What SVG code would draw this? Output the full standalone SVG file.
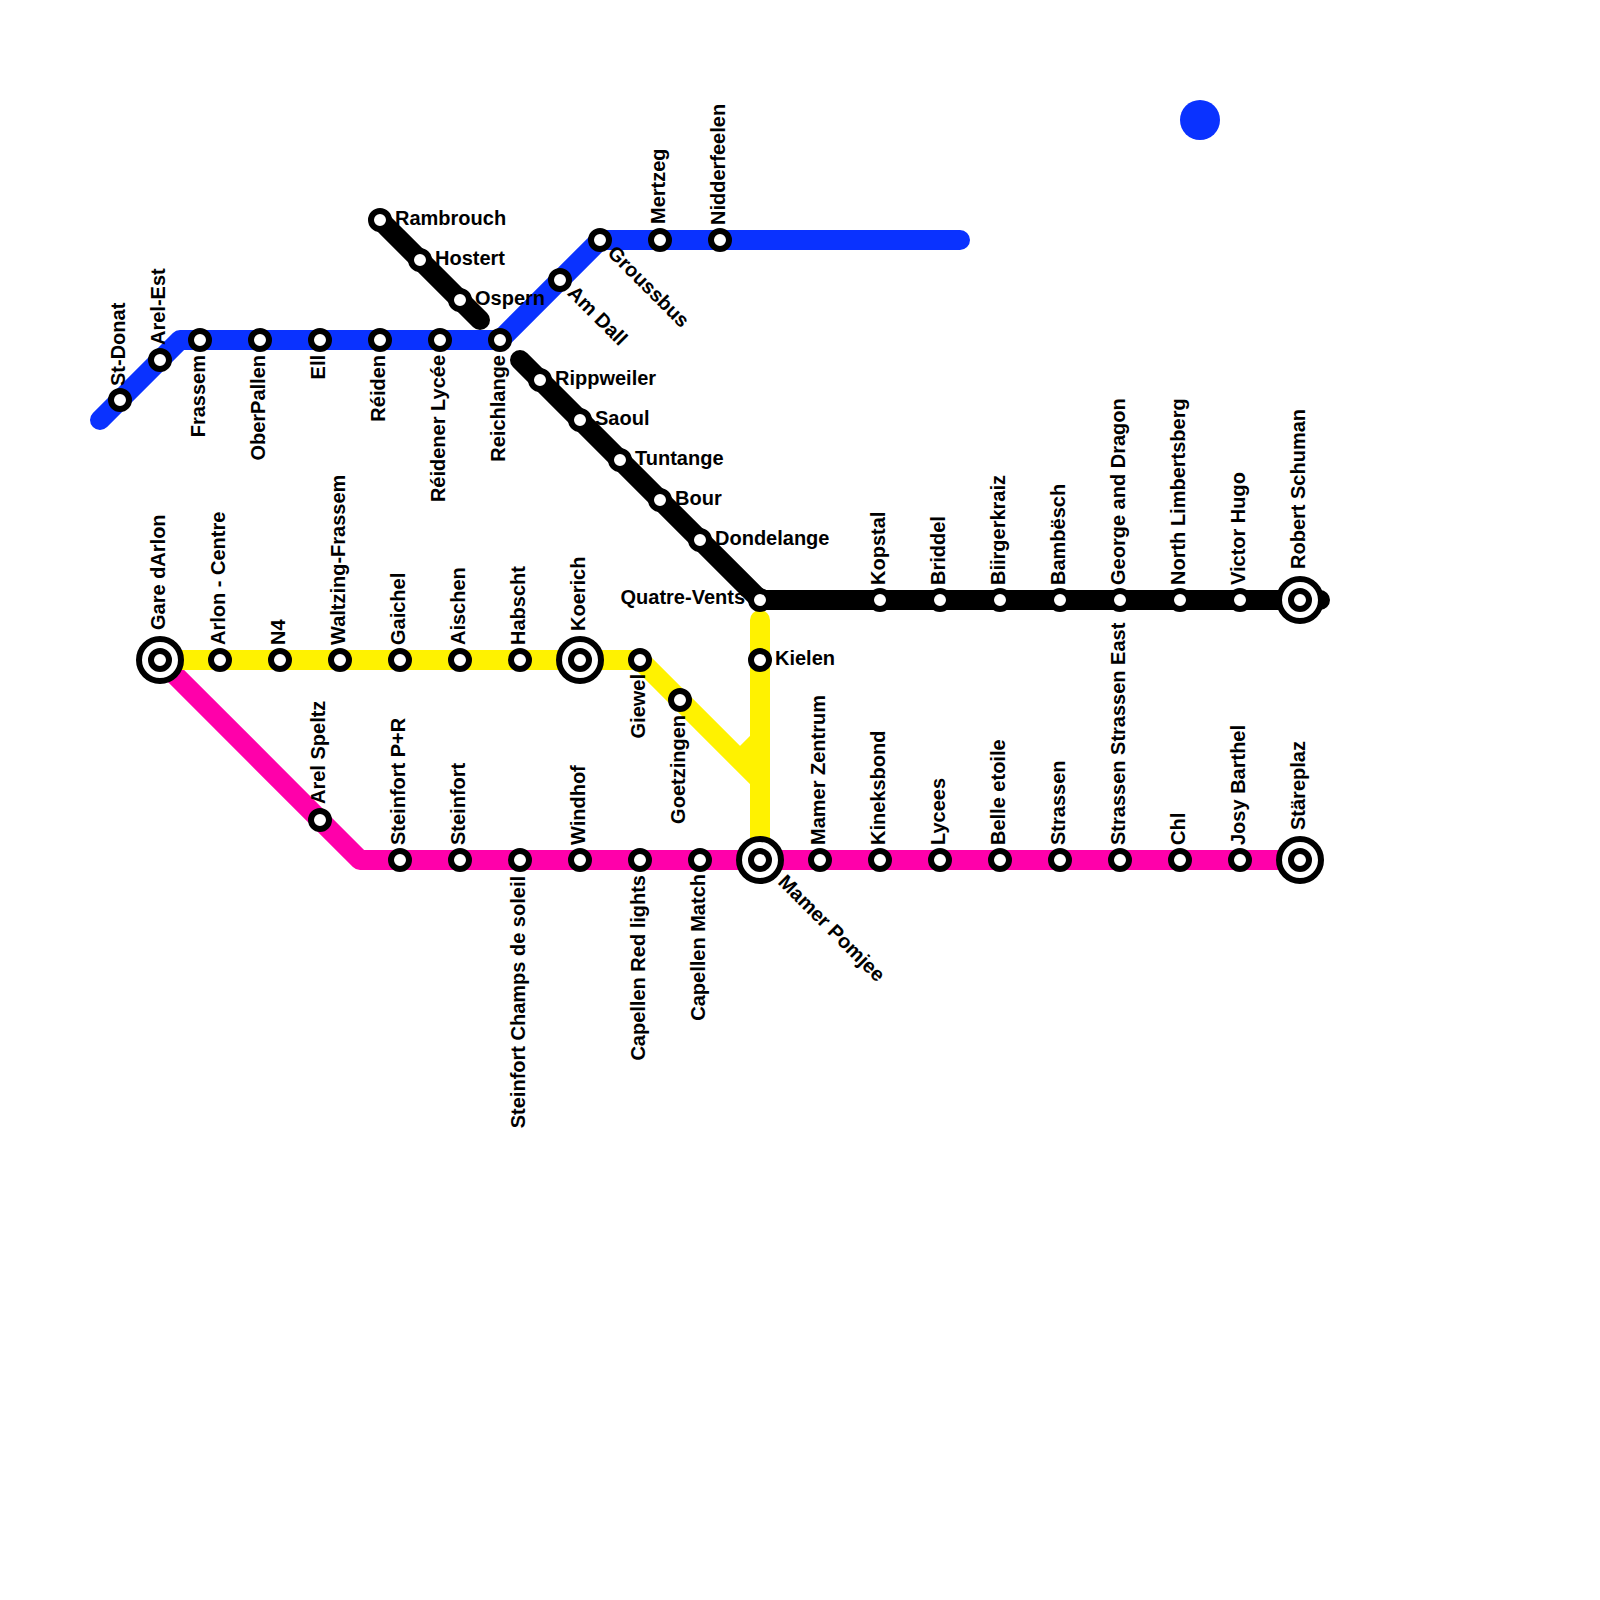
<svg xmlns="http://www.w3.org/2000/svg" width="1600" height="1600" viewBox="0 0 1600 1600">
<style>
.l{fill:none;stroke-width:20;stroke-linecap:round;stroke-linejoin:round}
.s{fill:#fff;stroke:#000;stroke-width:6}
.o{fill:#fff;stroke:#000;stroke-width:6}
text{font-family:"Liberation Sans",Arial,sans-serif;font-weight:700;font-size:20px;fill:#000}
.e{text-anchor:end}
</style>
<rect width="1600" height="1600" fill="#fff"/>
<g id="connectors">
<path class="l" stroke="#ff00aa" d="M160 660L360 860H1300"/>
<path class="l" stroke="#fff200" d="M160 660H640L760 780"/>
<path class="l" stroke="#fff200" d="M760 620V860"/>
<path d="M745 755L760 740" fill="none" stroke="#fff200" stroke-width="20"/>
<path class="l" stroke="#0a32ff" d="M100 420L180 340H500L600 240H960"/>
<path class="l" stroke="#000" d="M380 220L480 320"/>
<path class="l" stroke="#000" d="M520 360L760 600H1320"/>
<circle cx="1200" cy="120" r="20" fill="#0a32ff"/>
</g>
<g id="n-st-donat"><circle class="s" cx="120" cy="400" r="9"/><text transform="translate(125 386) rotate(-90)">St-Donat</text></g>
<g id="n-arel-est"><circle class="s" cx="160" cy="360" r="9"/><text transform="translate(165 345) rotate(-90)">Arel-Est</text></g>
<g id="n-frassem"><circle class="s" cx="200" cy="340" r="9"/><text class="e" transform="translate(205 355) rotate(-90)">Frassem</text></g>
<g id="n-oberpallen"><circle class="s" cx="260" cy="340" r="9"/><text class="e" transform="translate(265 355) rotate(-90)">OberPallen</text></g>
<g id="n-ell"><circle class="s" cx="320" cy="340" r="9"/><text class="e" transform="translate(325 355) rotate(-90)">Ell</text></g>
<g id="n-reiden"><circle class="s" cx="380" cy="340" r="9"/><text class="e" transform="translate(385 355) rotate(-90)">Réiden</text></g>
<g id="n-reidener"><circle class="s" cx="440" cy="340" r="9"/><text class="e" transform="translate(445 355) rotate(-90)">Réidener Lycée</text></g>
<g id="n-reichlange"><circle class="s" cx="500" cy="340" r="9"/><text class="e" transform="translate(505 355) rotate(-90)">Reichlange</text></g>
<g id="n-amdall"><circle class="s" cx="560" cy="280" r="9"/><text transform="translate(566.500 294) rotate(45)">Am Dall</text></g>
<g id="n-groussbus"><circle class="s" cx="600" cy="240" r="9"/><text transform="translate(606.500 254) rotate(45)">Groussbus</text></g>
<g id="n-mertzeg"><circle class="s" cx="660" cy="240" r="9"/><text transform="translate(665 224) rotate(-90)">Mertzeg</text></g>
<g id="n-nidderfeelen"><circle class="s" cx="720" cy="240" r="9"/><text transform="translate(725 225) rotate(-90)">Nidderfeelen</text></g>
<g id="n-rambrouch"><circle class="s" cx="380" cy="220" r="9"/><text x="395" y="225">Rambrouch</text></g>
<g id="n-hostert"><circle class="s" cx="420" cy="260" r="9"/><text x="435" y="265">Hostert</text></g>
<g id="n-ospern"><circle class="s" cx="460" cy="300" r="9"/><text x="475" y="305">Ospern</text></g>
<g id="n-rippweiler"><circle class="s" cx="540" cy="380" r="9"/><text x="555" y="385">Rippweiler</text></g>
<g id="n-saoul"><circle class="s" cx="580" cy="420" r="9"/><text x="595" y="425">Saoul</text></g>
<g id="n-tuntange"><circle class="s" cx="620" cy="460" r="9"/><text x="635" y="465">Tuntange</text></g>
<g id="n-bour"><circle class="s" cx="660" cy="500" r="9"/><text x="675" y="505">Bour</text></g>
<g id="n-dondelange"><circle class="s" cx="700" cy="540" r="9"/><text x="715" y="545">Dondelange</text></g>
<g id="n-quatre"><circle class="s" cx="760" cy="600" r="9"/><text class="e" x="745" y="604">Quatre-Vents</text></g>
<g id="n-kopstal"><circle class="s" cx="880" cy="600" r="9"/><text transform="translate(885 585) rotate(-90)">Kopstal</text></g>
<g id="n-briddel"><circle class="s" cx="940" cy="600" r="9"/><text transform="translate(945 585) rotate(-90)">Briddel</text></g>
<g id="n-biirgerkraiz"><circle class="s" cx="1000" cy="600" r="9"/><text transform="translate(1005 585) rotate(-90)">Biirgerkraiz</text></g>
<g id="n-bambesch"><circle class="s" cx="1060" cy="600" r="9"/><text transform="translate(1065 585) rotate(-90)">Bambësch</text></g>
<g id="n-george"><circle class="s" cx="1120" cy="600" r="9"/><text transform="translate(1125 585) rotate(-90)">George and Dragon</text></g>
<g id="n-north"><circle class="s" cx="1180" cy="600" r="9"/><text transform="translate(1185 585) rotate(-90)">North Limbertsberg</text></g>
<g id="n-victor"><circle class="s" cx="1240" cy="600" r="9"/><text transform="translate(1245 585) rotate(-90)">Victor Hugo</text></g>
<g id="n-robert"><circle class="o" cx="1300" cy="600" r="21"/><circle class="s" cx="1300" cy="600" r="9"/><text transform="translate(1305 569) rotate(-90)">Robert Schuman</text></g>
<g id="n-gare"><circle class="o" cx="160" cy="660" r="21"/><circle class="s" cx="160" cy="660" r="9"/><text transform="translate(165 630) rotate(-90)">Gare dArlon</text></g>
<g id="n-arlon"><circle class="s" cx="220" cy="660" r="9"/><text transform="translate(225 645) rotate(-90)">Arlon - Centre</text></g>
<g id="n-n4"><circle class="s" cx="280" cy="660" r="9"/><text transform="translate(285 645) rotate(-90)">N4</text></g>
<g id="n-waltzing"><circle class="s" cx="340" cy="660" r="9"/><text transform="translate(345 645) rotate(-90)">Waltzing-Frassem</text></g>
<g id="n-gaichel"><circle class="s" cx="400" cy="660" r="9"/><text transform="translate(405 645) rotate(-90)">Gaichel</text></g>
<g id="n-aischen"><circle class="s" cx="460" cy="660" r="9"/><text transform="translate(465 645) rotate(-90)">Aischen</text></g>
<g id="n-habscht"><circle class="s" cx="520" cy="660" r="9"/><text transform="translate(525 645) rotate(-90)">Habscht</text></g>
<g id="n-koerich"><circle class="o" cx="580" cy="660" r="21"/><circle class="s" cx="580" cy="660" r="9"/><text transform="translate(585 631) rotate(-90)">Koerich</text></g>
<g id="n-giewel"><circle class="s" cx="640" cy="660" r="9"/><text class="e" transform="translate(645 674) rotate(-90)">Giewel</text></g>
<g id="n-goetzingen"><circle class="s" cx="680" cy="700" r="9"/><text class="e" transform="translate(685 715) rotate(-90)">Goetzingen</text></g>
<g id="n-kielen"><circle class="s" cx="760" cy="660" r="9"/><text x="775" y="665">Kielen</text></g>
<g id="n-arelspeltz"><circle class="s" cx="320" cy="820" r="9"/><text transform="translate(325 804) rotate(-90)">Arel Speltz</text></g>
<g id="n-steinfortpr"><circle class="s" cx="400" cy="860" r="9"/><text transform="translate(405 845) rotate(-90)">Steinfort P+R</text></g>
<g id="n-steinfort"><circle class="s" cx="460" cy="860" r="9"/><text transform="translate(465 845) rotate(-90)">Steinfort</text></g>
<g id="n-champs"><circle class="s" cx="520" cy="860" r="9"/><text class="e" transform="translate(525 876) rotate(-90)">Steinfort Champs de soleil</text></g>
<g id="n-windhof"><circle class="s" cx="580" cy="860" r="9"/><text transform="translate(585 845) rotate(-90)">Windhof</text></g>
<g id="n-redlights"><circle class="s" cx="640" cy="860" r="9"/><text class="e" transform="translate(645 875) rotate(-90)">Capellen Red lights</text></g>
<g id="n-match"><circle class="s" cx="700" cy="860" r="9"/><text class="e" transform="translate(705 874) rotate(-90)">Capellen Match</text></g>
<g id="n-pomjee"><circle class="o" cx="760" cy="860" r="21"/><circle class="s" cx="760" cy="860" r="9"/><text transform="translate(777 883) rotate(45)">Mamer Pomjee</text></g>
<g id="n-zentrum"><circle class="s" cx="820" cy="860" r="9"/><text transform="translate(825 845) rotate(-90)">Mamer Zentrum</text></g>
<g id="n-kineksbond"><circle class="s" cx="880" cy="860" r="9"/><text transform="translate(885 845) rotate(-90)">Kineksbond</text></g>
<g id="n-lycees"><circle class="s" cx="940" cy="860" r="9"/><text transform="translate(945 845) rotate(-90)">Lycees</text></g>
<g id="n-belle"><circle class="s" cx="1000" cy="860" r="9"/><text transform="translate(1005 845) rotate(-90)">Belle etoile</text></g>
<g id="n-strassen"><circle class="s" cx="1060" cy="860" r="9"/><text transform="translate(1065 845) rotate(-90)">Strassen</text></g>
<g id="n-strasseneast"><circle class="s" cx="1120" cy="860" r="9"/><text transform="translate(1125 845) rotate(-90)">Strassen Strassen East</text></g>
<g id="n-chl"><circle class="s" cx="1180" cy="860" r="9"/><text transform="translate(1185 845) rotate(-90)">Chl</text></g>
<g id="n-josy"><circle class="s" cx="1240" cy="860" r="9"/><text transform="translate(1245 845) rotate(-90)">Josy Barthel</text></g>
<g id="n-stareplaz"><circle class="o" cx="1300" cy="860" r="21"/><circle class="s" cx="1300" cy="860" r="9"/><text transform="translate(1305 830) rotate(-90)">Stäreplaz</text></g>
</svg>
